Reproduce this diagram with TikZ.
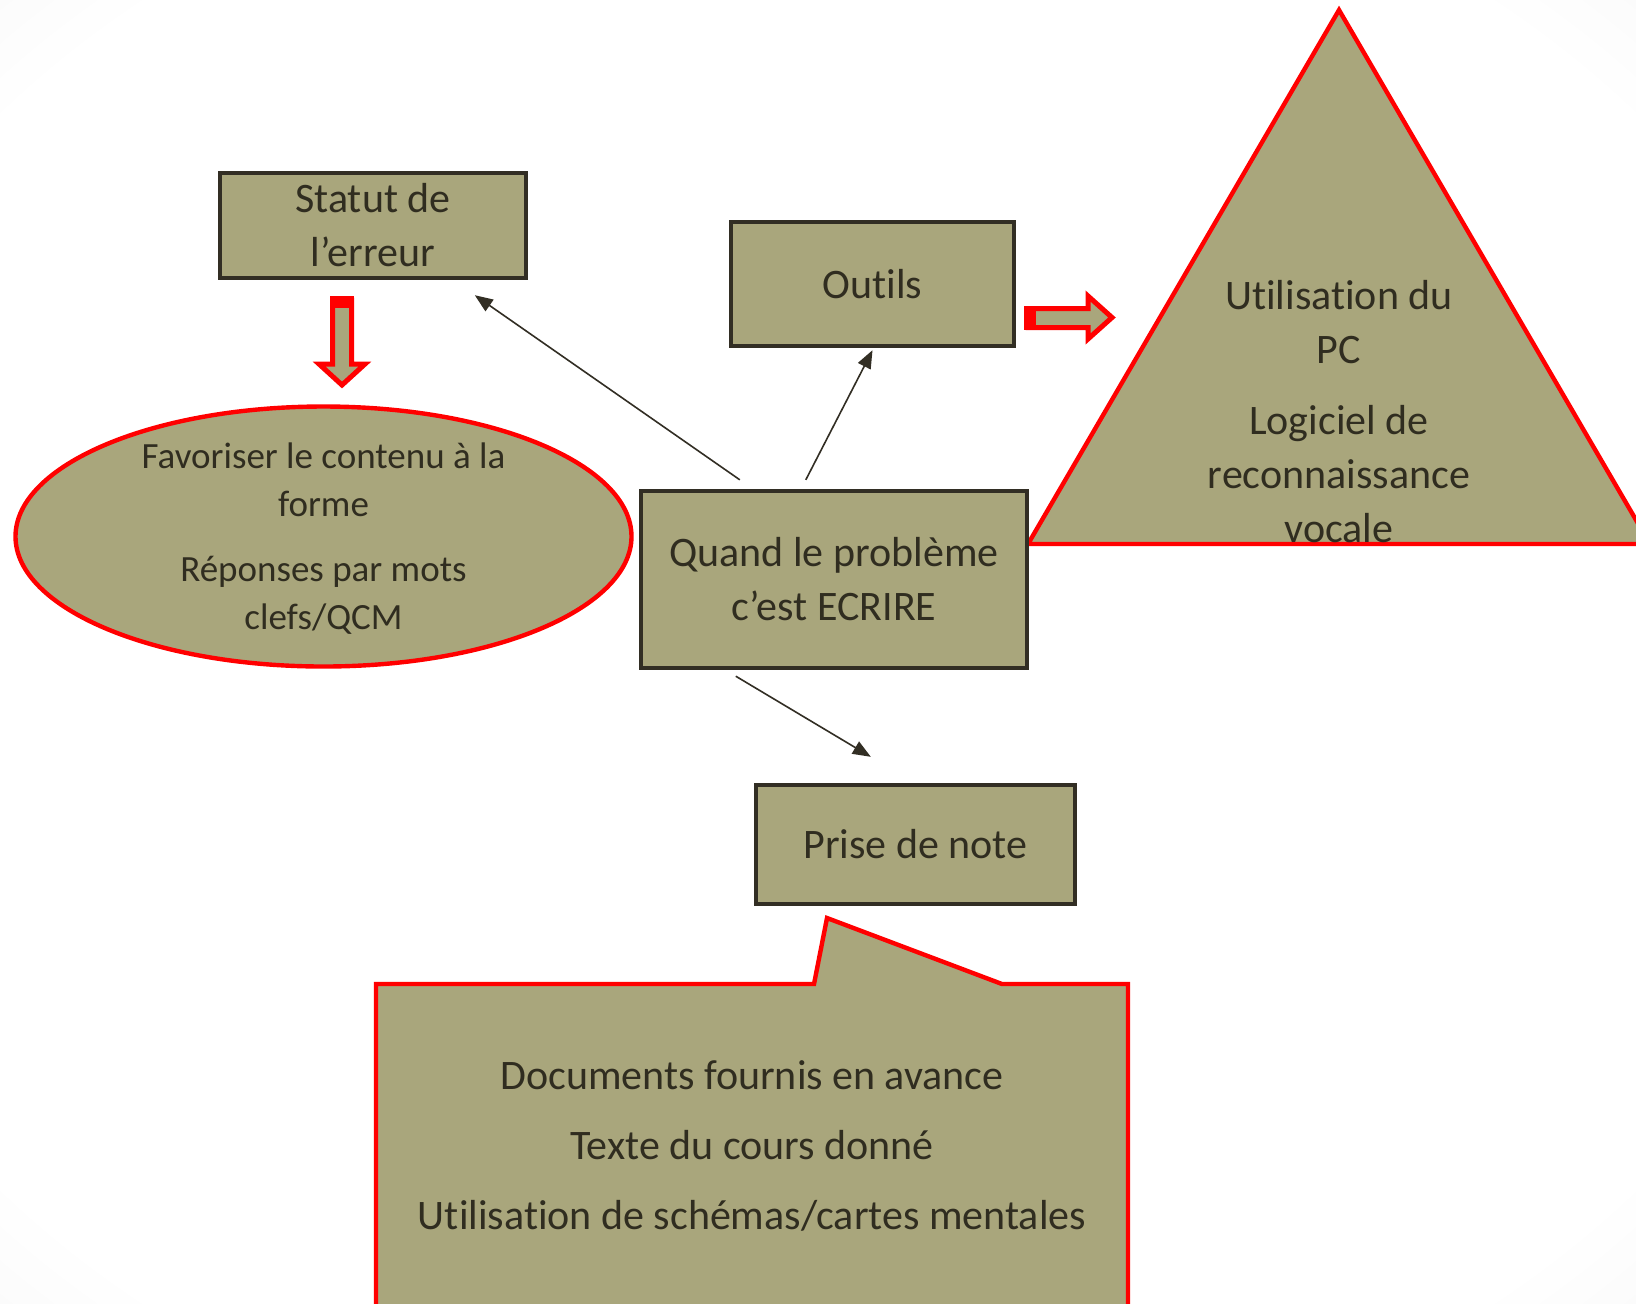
\documentclass[tikz,border=0pt]{standalone}
\usepackage{fontspec}
\setmainfont{Carlito}[Ligatures=NoCommon]
\usetikzlibrary{shapes,arrows.meta,calc}
\definecolor{khaki}{RGB}{169,166,124}
\definecolor{boxline}{RGB}{50,46,36}
\definecolor{inktext}{RGB}{48,45,32}
\pgfdeclareradialshading{slidebg}{\pgfpoint{0bp}{0bp}}{color(0bp)=(white); color(32bp)=(white); color(50bp)=(black!8); color(71bp)=(black!16)}
\newcommand\boxfont{\fontsize{21}{27}\selectfont}
\newcommand\ovalfont{\fontsize{18.5}{24}\selectfont}

\begin{document}
\begin{tikzpicture}[x=0.5pt,y=-0.5pt,
  greybox/.style={draw=boxline,line width=2.2pt,fill=khaki,text=inktext,align=center,font=\boxfont,inner sep=0pt},
  redshape/.style={draw=red,line width=2.2pt,fill=khaki,line join=miter},
  plain/.style={text=inktext,align=center,inner sep=0pt},
  link/.style={draw=boxline,line width=0.8pt,-{Triangle[length=9pt,width=7pt]}}]

% to fix the slide and its background
\useasboundingbox (0,0) rectangle (1636,1303);
\clip (0,0) rectangle (1636,1303);
\shade[shading=slidebg] (0,0) rectangle (1636,1303);

% to draw the triangle
\draw [redshape] (1339,10) -- (1650,544) -- (1028,544) -- cycle;
\node [plain,font=\boxfont] (pc) at (1339,412) {Utilisation du\\PC\\[8.5pt]Logiciel de\\reconnaissance\\vocale};

% to draw the boxes
\node [greybox,minimum width=153pt,minimum height=52.5pt] (statut) at (373,225.5) {Statut de\\l’erreur};
\node [greybox,minimum width=141.5pt,minimum height=62pt] (outils) at (872.5,284) {Outils};
\node [greybox,minimum width=193pt,minimum height=88.5pt] (ecrire) at (834,579.5) {Quand le problème\\c’est ECRIRE};
\node [greybox,minimum width=159.5pt,minimum height=59.5pt] (note) at (915.5,844.5) {Prise de note};

% to draw the ellipse
\node [ellipse,redshape,minimum width=308pt,minimum height=130pt,inner sep=0pt] (forme) at (323.5,536.5) {};
\node [plain,font=\ovalfont] (formetext) at ($(forme)+(0,2)$) {Favoriser le contenu à la\\forme\\[8.5pt]Réponses par mots\\clefs/QCM};

% to draw the callout
\draw [redshape] (376,1330) -- (376,984) -- (814,984) -- (827,918) -- (1002,984) -- (1128,984) -- (1128,1330) -- cycle;
\node [plain,font=\boxfont] (docs) at (752,1146) {Documents fournis en avance\\[8pt]Texte du cours donné\\[8pt]Utilisation de schémas/cartes mentales};

% to draw block arrows
\draw [draw=red,line width=2.5pt,fill=khaki,line join=miter] (332.5,300) -- (351.5,300) -- (351.5,364) -- (365,364) -- (342,385) -- (319,364) -- (332.5,364) -- cycle;
\fill [red] (330,296) rectangle (354,308);
\draw [draw=red,line width=2.5pt,fill=khaki,line join=miter] (1028,308.5) -- (1088,308.5) -- (1088,296) -- (1112,317.5) -- (1088,339) -- (1088,327.5) -- (1028,327.5) -- cycle;
\fill [red] (1024,306) rectangle (1036,330);

% to draw arrows between boxes
\coordinate (s1) at ($(ecrire.north west)+(101,-9)$);
\coordinate (s2) at ($(ecrire.north west)+(167,-9)$);
\coordinate (s3) at ($(ecrire.south west)+(97,6)$);
\coordinate (e3) at ($(note.north west)+(117,-26)$);
\draw [link] (s1) -- ($(statut.south west)+(257,15)$);
\draw [link] (s2) -- ($(outils.south)+(0,2)$);
\draw [link] (s3) -- (e3);
\end{tikzpicture}
\end{document}
